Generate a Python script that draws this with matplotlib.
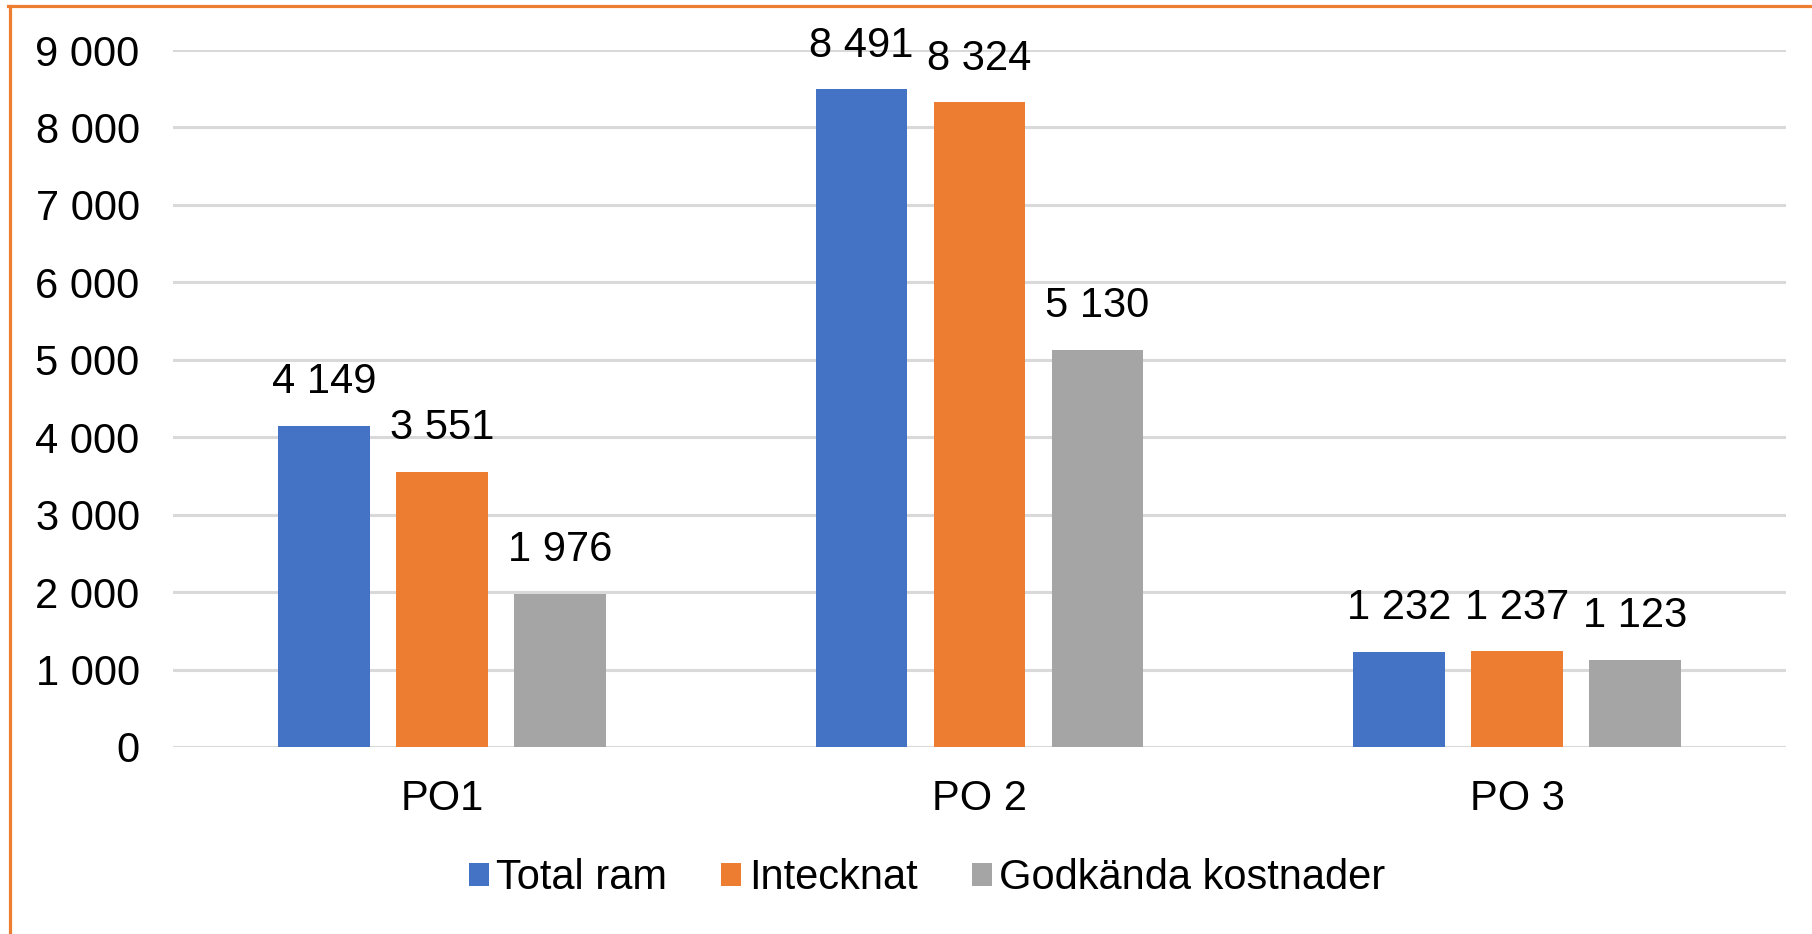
import matplotlib
matplotlib.use("Agg")
import matplotlib.pyplot as plt
from matplotlib.lines import Line2D
from matplotlib.ticker import FuncFormatter
import numpy as np

plt.rcParams['font.family'] = ['Liberation Sans', 'DejaVu Sans']

categories = ['PO1', 'PO 2', 'PO 3']
series_names = ['Total ram', 'Intecknat', 'Godkända kostnader']
total_ram = [4149, 8491, 1232]
intecknat = [3551, 8324, 1237]
godkanda = [1976, 5130, 1123]
colors = ['#4472C4', '#ED7D31', '#A5A5A5']
y_ticks = [0, 1000, 2000, 3000, 4000, 5000, 6000, 7000, 8000, 9000]


def fmt(v):
    return f"{int(v):,}".replace(",", " ")


W, H = 1812, 934
fig = plt.figure(figsize=(W / 100, H / 100), dpi=100)
ax = fig.add_axes([173 / W, 1 - 747 / H, (1786 - 173) / W, (747 - 50) / H])

x = np.arange(len(categories))
pitch = 0.2195
width = 0.171
for i, (name, vals) in enumerate(zip(series_names, [total_ram, intecknat, godkanda])):
    bars = ax.bar(x + (i - 1) * pitch, vals, width, color=colors[i], label=name, zorder=3)
    for b, v in zip(bars, vals):
        ax.annotate(fmt(v), (b.get_x() + b.get_width() / 2, v), xytext=(0, 17),
                    textcoords='offset points', ha='center', va='bottom', fontsize=30)

ax.set_xlim(-0.5, 2.5)
ax.set_ylim(0, 9000)
ax.set_yticks(y_ticks)
ax.yaxis.set_major_formatter(FuncFormatter(lambda v, p: fmt(v)))
ax.set_xticks(x)
ax.set_xticklabels(categories)
ax.tick_params(axis='both', length=0, labelsize=30)
ax.tick_params(axis='y', pad=24)
ax.tick_params(axis='x', pad=23)
ax.grid(axis='y', color='#D9D9D9', linewidth=2.2, zorder=0)
for s in ax.spines.values():
    s.set_visible(False)

ax.legend(loc='center', bbox_to_anchor=((927 - 173) / (1786 - 173), (747 - 878) / (747 - 50)),
          ncol=3, frameon=False, fontsize=30, handlelength=0.48, handleheight=0.48,
          handletextpad=0.18, columnspacing=1.3)

# orange frame (left and top edges)
fig.add_artist(Line2D([9.5 / W, 9.5 / W], [0, 1 - 5.5 / H], color='#ED7D31', linewidth=2.3,
                      transform=fig.transFigure))
fig.add_artist(Line2D([8 / W, 1], [1 - 5.5 / H, 1 - 5.5 / H], color='#ED7D31', linewidth=2.3,
                      transform=fig.transFigure))

fig.savefig('out.png', dpi=100, facecolor='white')
